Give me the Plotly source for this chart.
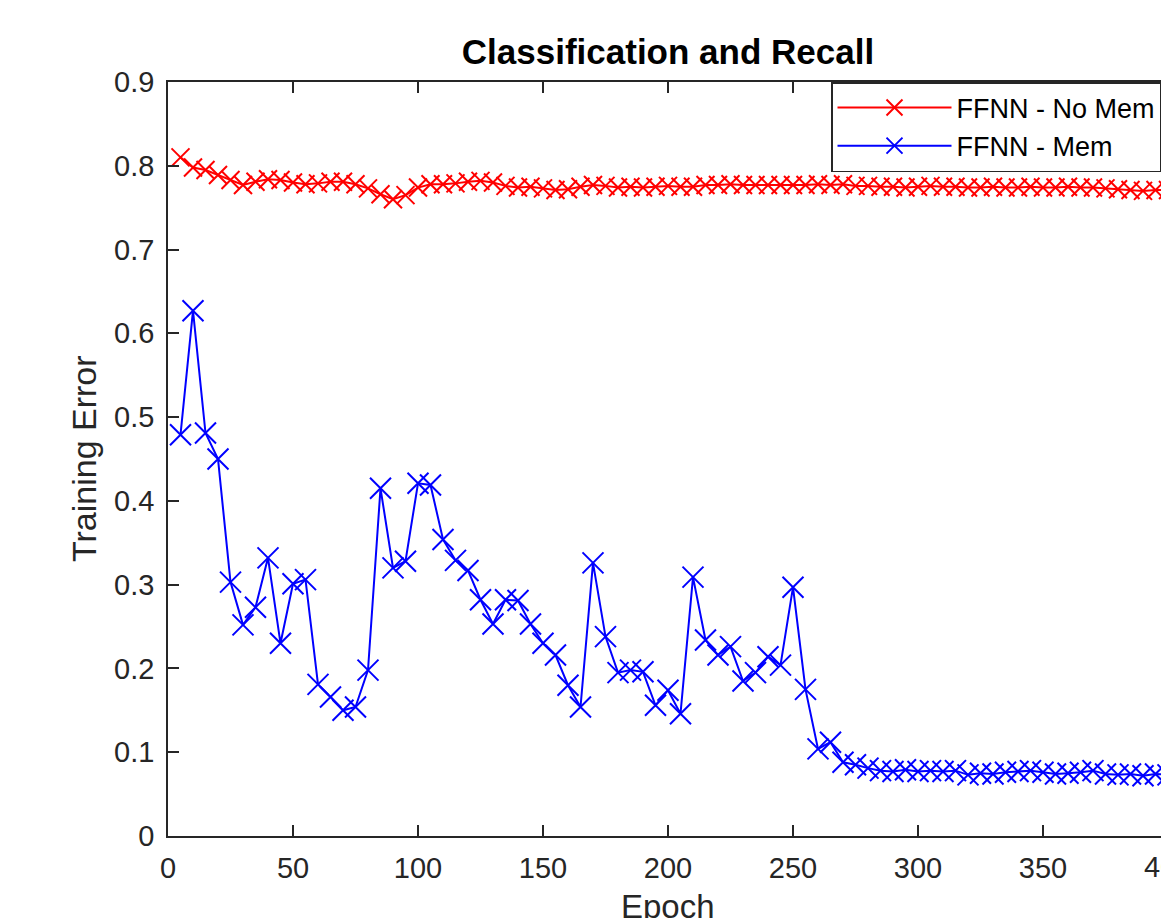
import plotly.graph_objects as go

epochs = list(range(5, 405, 5))

no_mem = [0.810, 0.798, 0.795, 0.789, 0.783, 0.777, 0.781, 0.784, 0.783, 0.780,
          0.778, 0.779, 0.781, 0.781, 0.778, 0.773, 0.766, 0.760, 0.765, 0.774,
          0.778, 0.778, 0.779, 0.781, 0.782, 0.780, 0.776, 0.774, 0.775, 0.773,
          0.771, 0.772, 0.775, 0.777, 0.776, 0.774, 0.775, 0.774, 0.775, 0.776,
          0.775, 0.775, 0.777, 0.777, 0.778, 0.777, 0.777, 0.777, 0.777, 0.777,
          0.777, 0.778, 0.777, 0.778, 0.776, 0.776, 0.775, 0.775, 0.774, 0.775,
          0.776, 0.775, 0.775, 0.774, 0.774, 0.775, 0.774, 0.774, 0.775, 0.774,
          0.774, 0.775, 0.774, 0.774, 0.773, 0.772, 0.771, 0.770, 0.771, 0.771]

mem = [0.479, 0.627, 0.481, 0.450, 0.303, 0.252, 0.273, 0.332, 0.230, 0.301,
       0.306, 0.181, 0.166, 0.150, 0.154, 0.198, 0.415, 0.320, 0.328, 0.421,
       0.419, 0.354, 0.329, 0.317, 0.282, 0.253, 0.282, 0.281, 0.253, 0.230,
       0.216, 0.180, 0.154, 0.326, 0.238, 0.195, 0.198, 0.196, 0.156, 0.174,
       0.146, 0.309, 0.234, 0.216, 0.226, 0.185, 0.195, 0.214, 0.204, 0.297,
       0.175, 0.104, 0.112, 0.088, 0.085, 0.081, 0.078, 0.077, 0.079, 0.077,
       0.078, 0.077, 0.078, 0.073, 0.075, 0.074, 0.076, 0.077, 0.078, 0.076,
       0.074, 0.075, 0.076, 0.078, 0.074, 0.073, 0.074, 0.072, 0.074, 0.073]

x_ticks = [0, 50, 100, 150, 200, 250, 300, 350, 400]
y_ticks = [0, 0.1, 0.2, 0.3, 0.4, 0.5, 0.6, 0.7, 0.8, 0.9]

AX = "#262626"
FONT = "Liberation Sans, Arial, Helvetica, sans-serif"
X_MAX_VISIBLE = 397.2  # the reference image is cropped just before x = 400

fig = go.Figure()
fig.add_trace(go.Scatter(
    x=epochs, y=no_mem, mode="lines+markers", name="FFNN - No Mem",
    line=dict(color="#ff0000", width=2),
    marker=dict(symbol="x-thin", size=18, line=dict(color="#ff0000", width=2)),
))
fig.add_trace(go.Scatter(
    x=epochs, y=mem, mode="lines+markers", name="FFNN - Mem",
    line=dict(color="#0000ff", width=2),
    marker=dict(symbol="x-thin", size=21, line=dict(color="#0000ff", width=2)),
))

fig.update_layout(
    width=1161, height=918,
    margin=dict(l=168, r=0, t=82, b=82, autoexpand=False),
    paper_bgcolor="white", plot_bgcolor="white",
    font=dict(family=FONT, color=AX, size=29),
    title=dict(text="<b>Classification and Recall</b>", xref="container", yref="container",
               x=668 / 1161, y=1 - 52 / 918, xanchor="center", yanchor="middle",
               font=dict(size=35, color="#000000", family=FONT)),
    showlegend=True,
    legend=dict(x=(831 - 168) / 993, y=1, xanchor="left", yanchor="top",
                bgcolor="white", bordercolor=AX, borderwidth=1.5,
                font=dict(size=27, color="#000000", family=FONT),
                itemwidth=114, tracegroupgap=0),
)

fig.update_xaxes(
    range=[0, X_MAX_VISIBLE], tickvals=x_ticks, ticktext=[str(v) for v in x_ticks],
    showgrid=False, zeroline=False, showline=True, linecolor=AX, linewidth=1.5,
    mirror="ticks", ticks="inside", ticklen=11, tickwidth=1.5, tickcolor=AX,
    tickfont=dict(size=29, color=AX, family=FONT), ticklabelstandoff=5,
)
fig.update_yaxes(
    range=[0, 0.9], tickvals=y_ticks, ticktext=["0" if v == 0 else f"{v:.1f}" for v in y_ticks],
    showgrid=False, zeroline=False, showline=True, linecolor=AX, linewidth=1.5,
    mirror=False, ticks="inside", ticklen=11, tickwidth=1.5, tickcolor=AX,
    tickfont=dict(size=29, color=AX, family=FONT), ticklabelstandoff=6,
)

# Tick label "400" lies just past the visible edge (partly cut off in the reference)
fig.add_annotation(x=x_ticks[-1] / X_MAX_VISIBLE, y=0, xref="paper", yref="paper",
                   text=str(x_ticks[-1]), showarrow=False, xanchor="center",
                   yanchor="top", yshift=-13, font=dict(size=29, color=AX, family=FONT))
fig.add_annotation(x=0.5 * x_ticks[-1] / X_MAX_VISIBLE, y=-(886 - 836) / 754,
                   xref="paper", yref="paper", text="Epoch",
                   showarrow=False, yanchor="top", font=dict(size=33, color=AX, family=FONT))
fig.add_annotation(x=(84 - 168) / 993, y=0.5, xref="paper", yref="paper",
                   text="Training Error", textangle=-90, showarrow=False,
                   xanchor="center", yanchor="middle",
                   font=dict(size=34, color=AX, family=FONT))

fig.write_html("out.html", config={"displayModeBar": False},
               post_script="document.body.style.margin='0';document.body.style.overflow='hidden';")
